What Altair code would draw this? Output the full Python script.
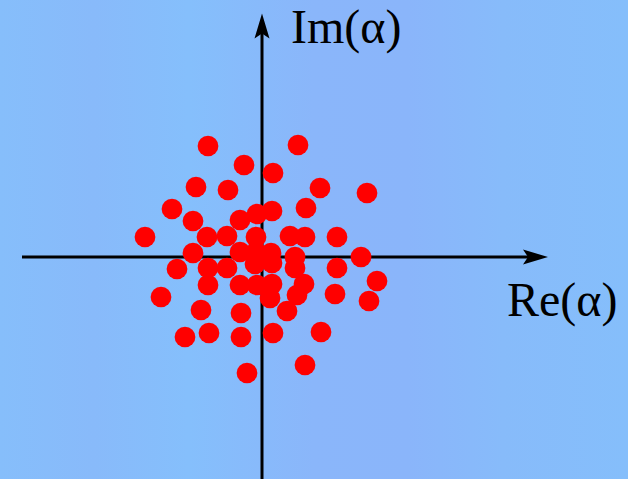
import altair as alt
import pandas as pd

# Sample points in the complex plane: real and imaginary parts
re_vals = [-1.08, 0.72, -0.36, 0.22, -1.32, -0.68, 1.16, 2.10, -1.80, 0.88,
           0.20, -0.10, -1.38, -0.44, -2.34, -1.10, -0.70, -0.12, 0.56, 0.86,
           1.50, -1.38, -0.44, -0.12, 0.18, -1.70, -1.08, -0.70, -0.14, 0.20,
           0.66, 0.66, 1.50, 1.98, 2.30, -1.08, -0.44, -0.10, 0.20, 0.84,
           0.70, 1.46, 2.14, -2.02, 0.16, 0.50, -1.22, -0.42, 1.18, -1.54,
           -1.06, -0.42, 0.22, 0.86, -0.30]
im_vals = [2.22, 2.24, 1.84, 1.68, 1.40, 1.34, 1.38, 1.28, 0.96, 0.98,
           0.92, 0.86, 0.72, 0.74, 0.40, 0.40, 0.42, 0.40, 0.42, 0.40,
           0.40, 0.08, 0.10, 0.10, 0.08, -0.24, -0.22, -0.22, -0.14, -0.12,
           0.00, -0.22, -0.22, 0.00, -0.48, -0.56, -0.56, -0.56, -0.54, -0.54,
           -0.76, -0.74, -0.88, -0.80, -0.82, -1.08, -1.06, -1.12, -1.50, -1.60,
           -1.52, -1.60, -1.52, -2.16, -2.32]

axis_labels = ["Re(α)", "Im(α)"]

points = pd.DataFrame({"re": re_vals, "im": im_vals})

W, H = 628, 479
X_DOM = [-5.24, 7.32]
Y_DOM = [-4.44, 5.14]

xs = alt.Scale(domain=X_DOM, nice=False, zero=False)
ys = alt.Scale(domain=Y_DOM, nice=False, zero=False)

# Soft blue backdrop
background = alt.Chart(pd.DataFrame({"a": [0]})).mark_rect(
    fill=alt.Gradient(
        gradient="linear", x1=0, x2=1, y1=0, y2=0,
        stops=[
            alt.GradientStop(offset=0.0, color="#86BEFB"),
            alt.GradientStop(offset=0.15, color="#88BAFA"),
            alt.GradientStop(offset=0.3, color="#85BFFC"),
            alt.GradientStop(offset=0.5, color="#8AB6FA"),
            alt.GradientStop(offset=0.65, color="#8AB5FA"),
            alt.GradientStop(offset=0.8, color="#87BBFA"),
            alt.GradientStop(offset=1.0, color="#85BEFB"),
        ],
    ),
    stroke=None,
).encode(x=alt.value(0), x2=alt.value(W), y=alt.value(0), y2=alt.value(H))

# Coordinate axes
h_axis = alt.Chart(pd.DataFrame({"x": [-4.8], "x2": [5.5], "y": [0.0]})).mark_rule(
    color="black", strokeWidth=3
).encode(
    x=alt.X("x:Q", scale=xs, axis=None),
    x2="x2:Q",
    y=alt.Y("y:Q", scale=ys, axis=None),
)
v_axis = alt.Chart(pd.DataFrame({"y": [-4.6], "y2": [4.5], "x": [0.0]})).mark_rule(
    color="black", strokeWidth=3
).encode(
    x=alt.X("x:Q", scale=xs, axis=None),
    y=alt.Y("y:Q", scale=ys, axis=None),
    y2="y2:Q",
)

right_head = alt.Chart(pd.DataFrame({"x": [5.47], "y": [0.0]})).mark_point(
    shape="M1,0 L-1,-0.6 L-0.6,0 L-1,0.6 Z",
    size=625, filled=True, color="black", opacity=1, strokeWidth=0,
).encode(x=alt.X("x:Q", scale=xs, axis=None), y=alt.Y("y:Q", scale=ys, axis=None))

up_head = alt.Chart(pd.DataFrame({"x": [0.0], "y": [4.62]})).mark_point(
    shape="M0,-1 L-0.6,1 L0,0.6 L0.6,1 Z",
    size=625, filled=True, color="black", opacity=1, strokeWidth=0,
).encode(x=alt.X("x:Q", scale=xs, axis=None), y=alt.Y("y:Q", scale=ys, axis=None))

labels = alt.Chart(pd.DataFrame({
    "x": [4.9, 0.58], "y": [-0.9, 4.56], "t": axis_labels,
})).mark_text(
    font="Liberation Serif", fontSize=48, color="black",
    align="left", baseline="middle",
).encode(
    x=alt.X("x:Q", scale=xs, axis=None),
    y=alt.Y("y:Q", scale=ys, axis=None),
    text="t:N",
)

dots = alt.Chart(points).mark_circle(size=430, color="#FF0000", opacity=1).encode(
    x=alt.X("re:Q", scale=xs, axis=None),
    y=alt.Y("im:Q", scale=ys, axis=None),
)

chart = alt.layer(
    background, h_axis, v_axis, right_head, up_head, labels, dots
).properties(
    width=W, height=H, padding=0, autosize=alt.AutoSizeParams(type="none")
).configure_view(stroke=None)

chart.save("out.html", embed_options={"renderer": "svg", "actions": False})
